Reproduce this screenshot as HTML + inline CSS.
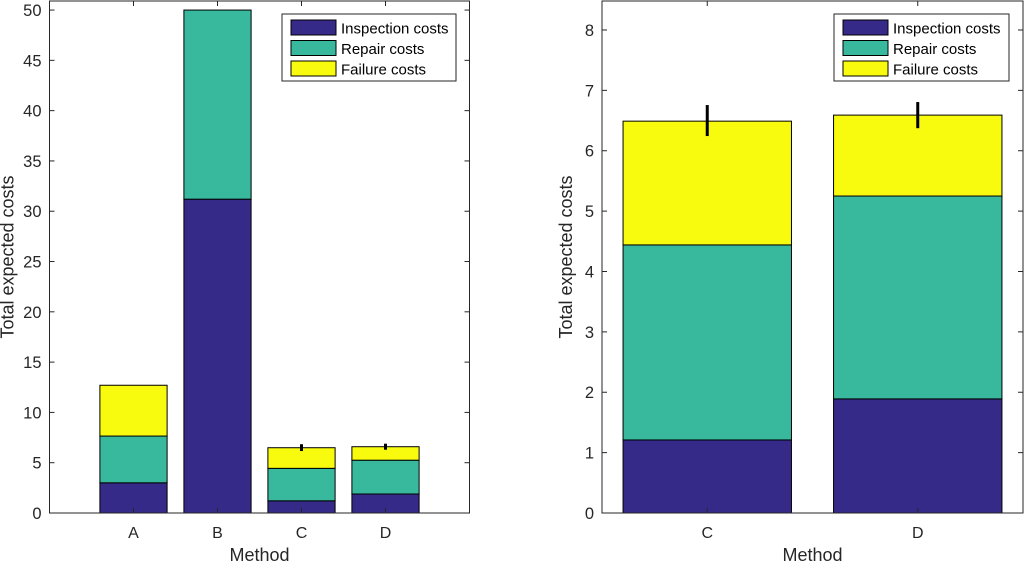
<!DOCTYPE html>
<html><head><meta charset="utf-8"><style>
html,body{margin:0;padding:0;background:#fff;}
svg{display:block;font-family:"Liberation Sans",sans-serif;}
</style></head><body>
<svg id="chart" width="1024" height="563" viewBox="0 0 1024 563" xmlns="http://www.w3.org/2000/svg"></svg>
<script>
const leftCategories = ["A","B","C","D"];
const leftInspection = [3.0, 31.2, 1.21, 1.89];
const leftRepair = [4.65, 18.8, 3.23, 3.36];
const leftFailure = [5.05, 0, 2.05, 1.34];
const leftErrLow = [null, null, 6.26, 6.39];
const leftErrHigh = [null, null, 6.74, 6.79];
const leftTicks = [0,5,10,15,20,25,30,35,40,45,50];

const rightCategories = ["C","D"];
const rightInspection = [1.21, 1.89];
const rightRepair = [3.23, 3.36];
const rightFailure = [2.05, 1.34];
const rightErrLow = [6.26, 6.39];
const rightErrHigh = [6.74, 6.79];
const rightTicks = [0,1,2,3,4,5,6,7,8];

const seriesNames = ["Inspection costs","Repair costs","Failure costs"];
const colors = ["#352a87","#38b99e","#f9fb0e"];
const NS = "http://www.w3.org/2000/svg";
const svg = document.getElementById("chart");
function mk(tag, attrs, parent){const e=document.createElementNS(NS,tag);for(const k in attrs)e.setAttribute(k,attrs[k]);(parent||svg).appendChild(e);return e;}

function drawPanel(o){
  const g = mk("g",{});
  
  
  const xs = v => o.x0 + (v - o.xmin)/(o.xmax-o.xmin)*(o.x1-o.x0);
  const ys = v => o.yb - (v - o.ymin)/(o.ymax-o.ymin)*(o.yb-o.yt);
  const bw = 0.8*(xs(1)-xs(0));
  o.cats.forEach((c,i)=>{
    const cx = xs(i+o.first);
    let base = 0;
    [o.s1,o.s2,o.s3].forEach((arr,k)=>{
      const v = arr[i];
      if(v<=0) return;
      const r = mk("rect",{x:cx-bw/2,y:ys(base+v),width:bw,height:ys(base)-ys(base+v),fill:colors[k],stroke:"#000","stroke-width":1},g);
      
      
      base += v;
    });
    if(o.lo[i]!=null){
      const l = mk("line",{x1:cx,x2:cx,y1:ys(o.lo[i])+1,y2:ys(o.hi[i])-1,stroke:"#000","stroke-width":3},g);
      
      
    }
    const t = mk("text",{x:cx,y:o.yb+25,"text-anchor":"middle","font-size":16,fill:"#262626"},g);
    t.textContent = c;
    
    
    mk("line",{x1:cx,x2:cx,y1:o.yb,y2:o.yb-5,stroke:"#262626"},g);
    mk("line",{x1:cx,x2:cx,y1:o.yt,y2:o.yt+5,stroke:"#262626"},g);
  });
  o.ticks.forEach(v=>{
    const y = ys(v);
    mk("line",{x1:o.x0,x2:o.x0+5,y1:y,y2:y,stroke:"#262626"},g);
    mk("line",{x1:o.x1,x2:o.x1-5,y1:y,y2:y,stroke:"#262626"},g);
    const t = mk("text",{x:o.x0-8,y:y+6,"text-anchor":"end","font-size":16.5,fill:"#262626"},g);
    t.textContent = v;
    
    
  });
  const box = mk("rect",{x:o.x0,y:o.yt,width:o.x1-o.x0,height:o.yb-o.yt,fill:"none",stroke:"#262626","stroke-width":1},g);
  
  
  const xt = mk("text",{x:(o.x0+o.x1)/2,y:o.yb+48,"text-anchor":"middle","font-size":18,fill:"#262626"},g);
  xt.textContent = "Method";
  
  
  const yc = (o.yt+o.yb)/2;
  const yt = mk("text",{x:o.x0-o.ytOff,y:yc,"text-anchor":"middle","font-size":18,fill:"#262626",transform:`rotate(-90 ${o.x0-o.ytOff} ${yc})`},g);
  yt.textContent = "Total expected costs";
  
  
  const lg = mk("g",{},g);
  
  
  mk("rect",{x:o.lx,y:14,width:o.lw,height:67,fill:"#fff",stroke:"#262626","stroke-width":1},lg);
  seriesNames.forEach((n,k)=>{
    const e = mk("g",{},lg);
    
    
    mk("rect",{x:o.lx+9,y:20+k*20.5,width:45,height:15,fill:colors[k],stroke:"#000"},e);
    const t = mk("text",{x:o.lx+59,y:33.5+k*20.5,"font-size":15,fill:"#000"},e);
    t.textContent = n;
  });
}

drawPanel({name:"left-chart",x0:49.5,x1:469.5,xmin:0,xmax:5,first:1,yt:1,yb:513,ymin:0,ymax:50.9,
  cats:leftCategories,s1:leftInspection,s2:leftRepair,s3:leftFailure,lo:leftErrLow,hi:leftErrHigh,ticks:leftTicks,lx:282,lw:174,ytOff:36});
drawPanel({name:"right-chart",x0:602,x1:1023,xmin:0.5,xmax:2.5,first:1,yt:1,yb:513,ymin:0,ymax:8.48,
  cats:rightCategories,s1:rightInspection,s2:rightRepair,s3:rightFailure,lo:rightErrLow,hi:rightErrHigh,ticks:rightTicks,lx:834,lw:175,ytOff:30});
</script>
</body></html>
